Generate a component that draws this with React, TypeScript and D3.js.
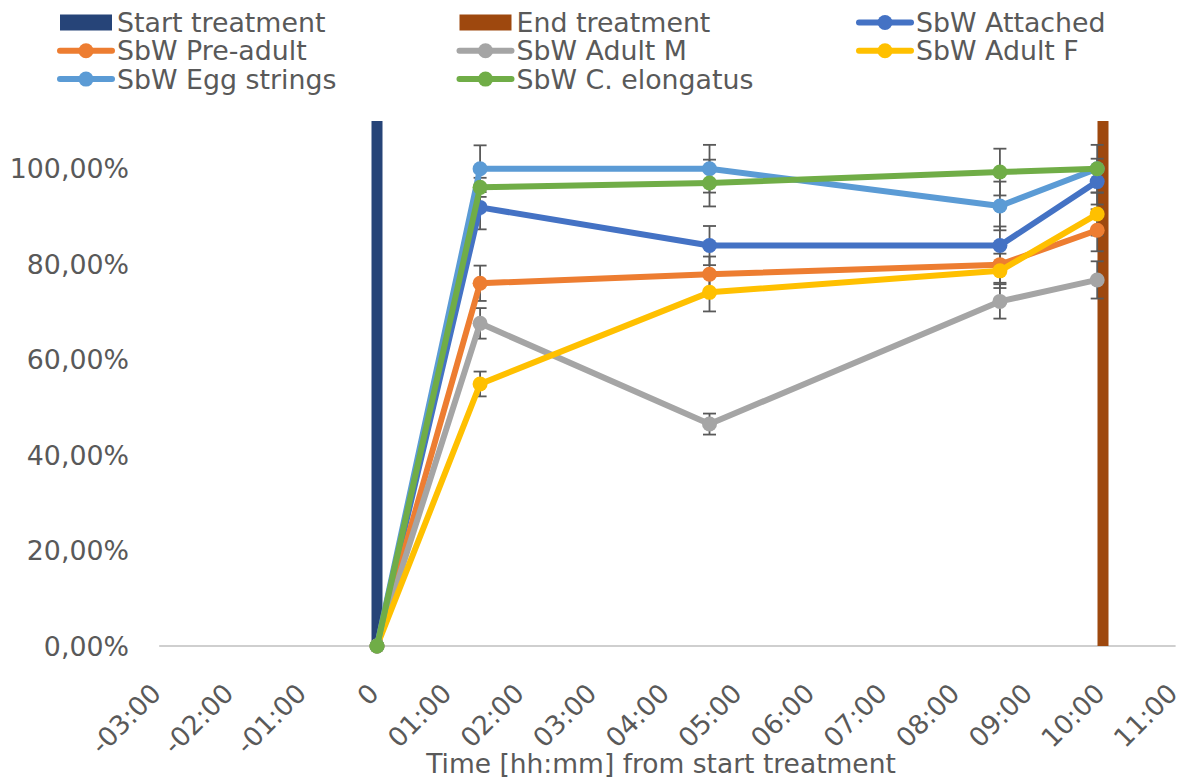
import React from "react";
import * as d3 from "d3";

const times = [0, 1.42, 4.58, 8.58, 9.92];
const startTreatment = 0;
const endTreatment = 10;
const barValue = 110;

const seriesNames = [
  "SbW Attached",
  "SbW Pre-adult",
  "SbW Adult M",
  "SbW Adult F",
  "SbW Egg strings",
  "SbW C. elongatus",
];
const seriesColors = ["#4472C4", "#ED7D31", "#A5A5A5", "#FFC000", "#5B9BD5", "#70AD47"];

const attached = [0, 91.9, 83.9, 83.9, 97.3];
const preAdult = [0, 76.0, 77.9, 79.9, 87.1];
const adultM = [0, 67.6, 46.5, 72.2, 76.7];
const adultF = [0, 54.9, 74.1, 78.6, 90.5];
const eggStrings = [0, 100, 100, 92.2, 100];
const cElongatus = [0, 96.1, 97.0, 99.3, 100];

const attachedErr = [0, 4.6, 4.1, 4.0, 4.8];
const preAdultErr = [0, 3.7, 3.7, 3.8, 4.4];
const adultMErr = [0, 3.2, 2.2, 3.6, 3.9];
const adultFErr = [0, 2.6, 4.0, 3.6, 4.5];
const eggStringsErr = [0, 4.9, 5.0, 5.1, 0];
const cElongatusErr = [0, 2.0, 4.9, 4.9, 5.0];

const seriesValues = [attached, preAdult, adultM, adultF, eggStrings, cElongatus];
const seriesErrors = [attachedErr, preAdultErr, adultMErr, adultFErr, eggStringsErr, cElongatusErr];

const xTicks = [-3, -2, -1, 0, 1, 2, 3, 4, 5, 6, 7, 8, 9, 10, 11];
const yTicks = [0, 20, 40, 60, 80, 100];

const FONT = "'DejaVu Sans', Verdana, sans-serif";
const TXT = "#595959";

function fmtTime(h: number) {
  if (h === 0) return "0";
  const s = h < 0 ? "-" : "";
  return s + String(Math.abs(h)).padStart(2, "0") + ":00";
}
function fmtPct(v: number) {
  return v.toFixed(2).replace(".", ",") + "%";
}

export default function App() {
  const W = 1184, H = 780;
  const x = d3.scaleLinear().domain([-3, 11]).range([159.2, 1175.6]);
  const y = d3.scaleLinear().domain([0, 110]).range([646, 121]);
  const line = d3
    .line<number>()
    .x((_, i) => x(times[i]))
    .y((d) => y(d));

  const legendItems = [
    { name: "Start treatment", color: "#264478", kind: "bar" },
    { name: "End treatment", color: "#9E480E", kind: "bar" },
    ...seriesNames.map((n, i) => ({ name: n, color: seriesColors[i], kind: "line" })),
  ];

  const barW = 11;
  return (
    <svg
      width={W}
      height={H}
      style={{ position: "absolute", left: 0, top: 0, background: "#fff" }}
      fontFamily={FONT}
    >
      {/* legend */}
      {legendItems.map((it, i) => {
        const col = i % 3;
        const row = Math.floor(i / 3);
        const lx = 60 + col * 399.5;
        const cy = 22.5 + row * 28.3;
        return (
          <g key={it.name}>
            {it.kind === "bar" ? (
              <rect x={lx} y={cy - 8} width={52} height={16} fill={it.color} />
            ) : (
              <g>
                <line x1={lx} x2={lx + 52} y1={cy} y2={cy} stroke={it.color} strokeWidth={6} strokeLinecap="round" />
                <circle cx={lx + 26} cy={cy} r={7.5} fill={it.color} />
              </g>
            )}
            <text x={lx + 57} y={cy + 9.5} fontSize={26.8} fill={TXT}>
              {it.name}
            </text>
          </g>
        );
      })}

      {/* y tick labels */}
      {yTicks.map((t) => (
        <text key={t} x={129} y={y(t)} dy="0.36em" textAnchor="end" fontSize={26.8} fill={TXT}>
          {fmtPct(t)}
        </text>
      ))}

      {/* x axis line */}
      <line x1={x(-3)} x2={x(11)} y1={y(0)} y2={y(0)} stroke="#BFBFBF" strokeWidth={1.5} />

      {/* x tick labels */}
      {xTicks.map((t) => (
        <text
          key={t}
          transform={`translate(${x(t) + 3.5},${695}) rotate(-45)`}
          textAnchor="end"
          fontSize={26.5}
          fill={TXT}
        >
          {fmtTime(t)}
        </text>
      ))}

      {/* axis title */}
      <text x={661} y={773} textAnchor="middle" fontSize={26.5} fill={TXT}>
        Time [hh:mm] from start treatment
      </text>

      {/* treatment bars */}
      <rect x={x(startTreatment) - barW / 2} y={y(barValue)} width={barW} height={y(0) - y(barValue)} fill="#264478" />
      <rect x={x(endTreatment) - barW / 2} y={y(barValue)} width={barW} height={y(0) - y(barValue)} fill="#9E480E" />

      {/* error bars */}
      {seriesValues.map((vals, si) => (
        <g key={"e" + si} stroke="#595959" strokeWidth={1.8}>
          {vals.map((v, i) => {
            const e = seriesErrors[si][i];
            if (!e) return null;
            const cx = x(times[i]);
            const y1 = y(v + e), y2 = y(v - e);
            return (
              <g key={i}>
                <line x1={cx} x2={cx} y1={y1} y2={y2} />
                <line x1={cx - 6.5} x2={cx + 6.5} y1={y1} y2={y1} />
                <line x1={cx - 6.5} x2={cx + 6.5} y1={y2} y2={y2} />
              </g>
            );
          })}
        </g>
      ))}

      {/* series */}
      {seriesValues.map((vals, si) => (
        <g key={"s" + si}>
          <path d={line(vals) || ""} fill="none" stroke={seriesColors[si]} strokeWidth={6} strokeLinejoin="round" strokeLinecap="round" />
          {vals.map((v, i) => (
            <circle key={i} cx={x(times[i])} cy={y(v)} r={7.5} fill={seriesColors[si]} />
          ))}
        </g>
      ))}
    </svg>
  );
}
